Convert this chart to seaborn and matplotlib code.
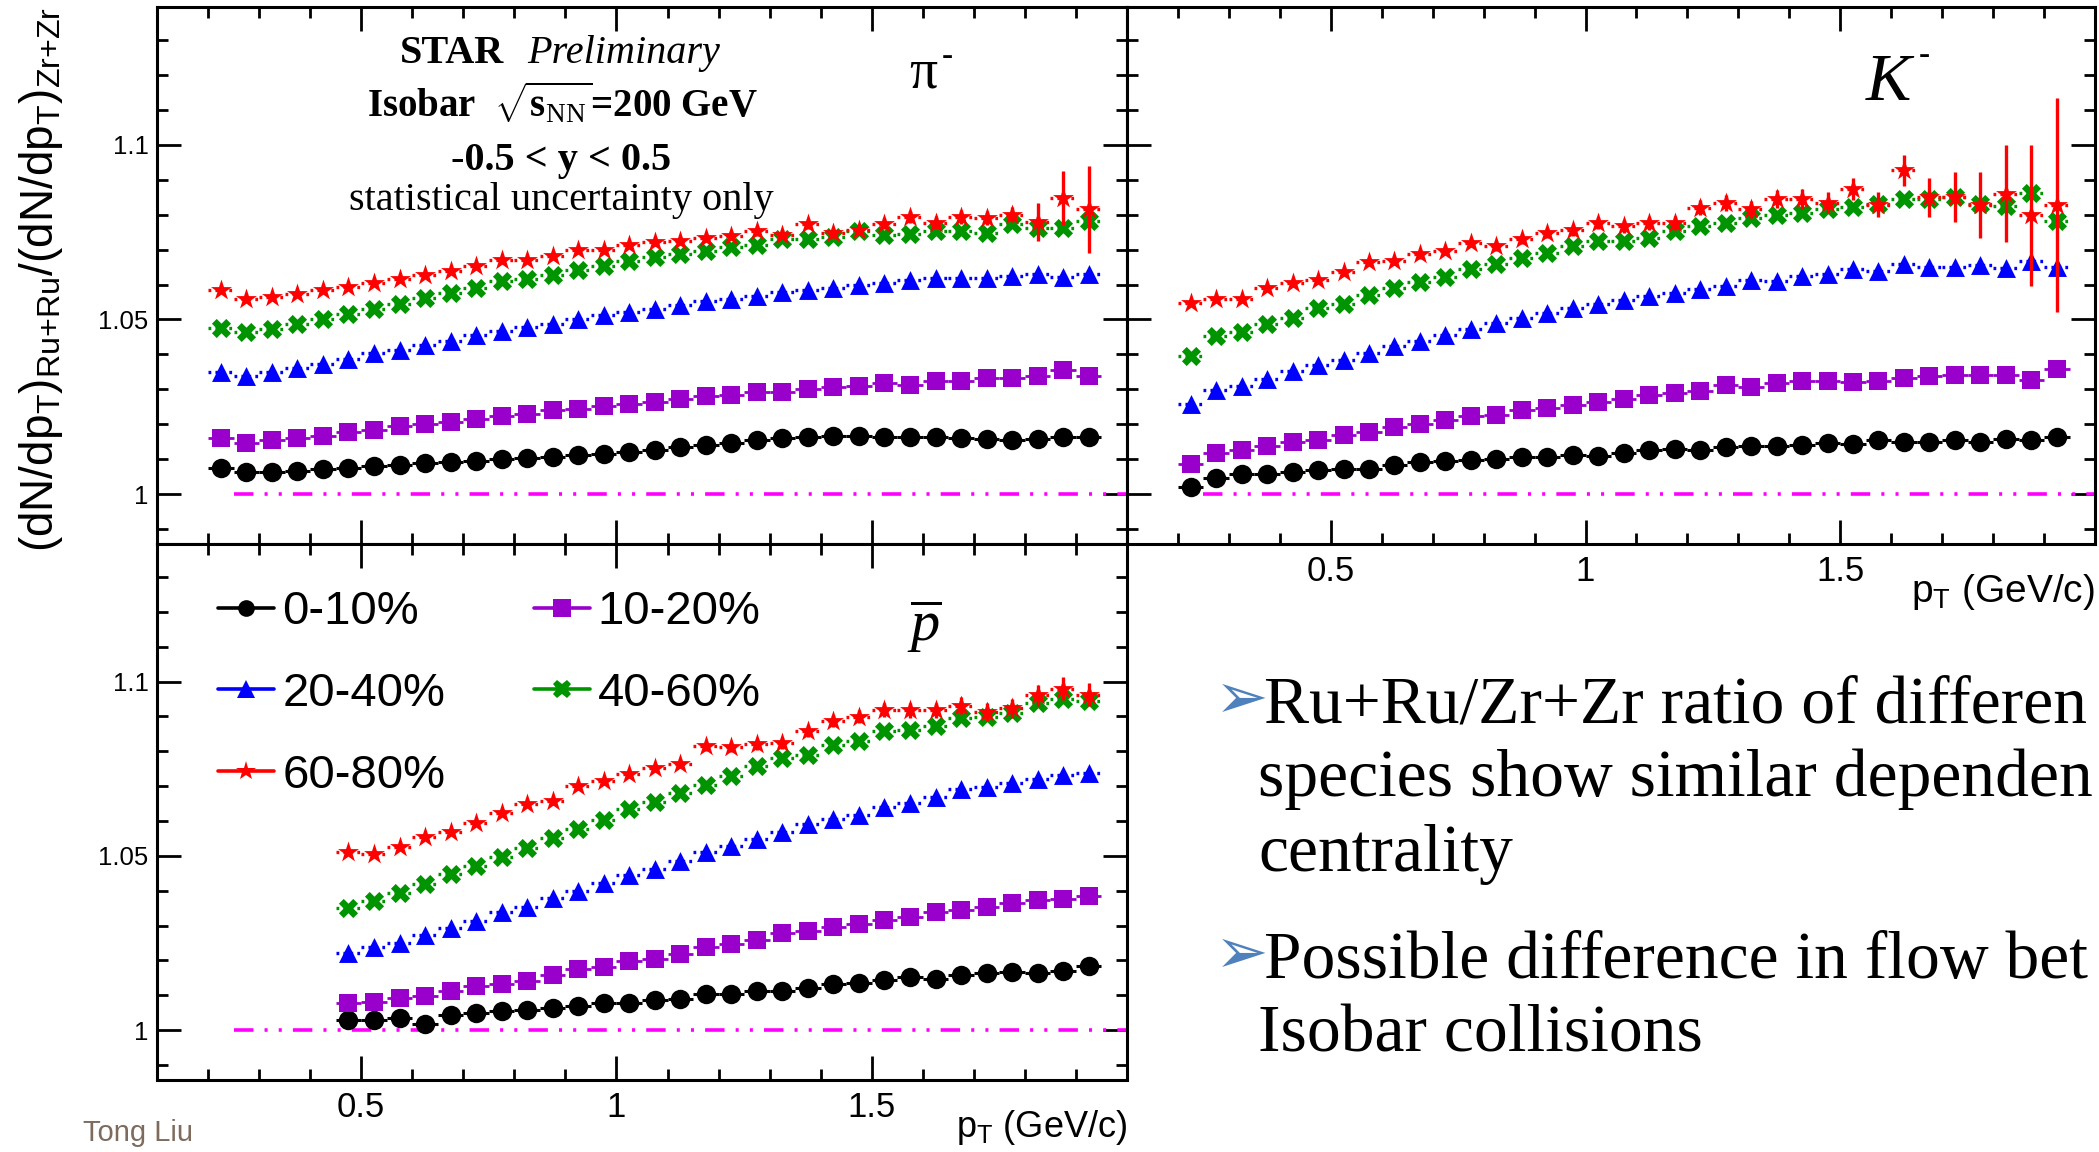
import numpy as np
import pandas as pd
import matplotlib
matplotlib.use("Agg")
import matplotlib.pyplot as plt
import seaborn as sns
from matplotlib.ticker import MultipleLocator, FixedLocator
from matplotlib.lines import Line2D

# ---------------------------------------------------------------- data
centralities = ["0-10%", "10-20%", "20-40%", "40-60%", "60-80%"]

pt_pion = [0.225, 0.275, 0.325, 0.375, 0.425, 0.475, 0.525, 0.575, 0.625, 0.675,
           0.725, 0.775, 0.825, 0.875, 0.925, 0.975, 1.025, 1.075, 1.125, 1.175,
           1.225, 1.275, 1.325, 1.375, 1.425, 1.475, 1.525, 1.575, 1.625, 1.675,
           1.725, 1.775, 1.825, 1.875, 1.925]
pt_kaon = [0.225, 0.275, 0.325, 0.375, 0.425, 0.475, 0.525, 0.575, 0.625, 0.675,
           0.725, 0.775, 0.825, 0.875, 0.925, 0.975, 1.025, 1.075, 1.125, 1.175,
           1.225, 1.275, 1.325, 1.375, 1.425, 1.475, 1.525, 1.575, 1.625, 1.675,
           1.725, 1.775, 1.825, 1.875, 1.925]
pt_pbar = [0.475, 0.525, 0.575, 0.625, 0.675, 0.725, 0.775, 0.825, 0.875, 0.925,
           0.975, 1.025, 1.075, 1.125, 1.175, 1.225, 1.275, 1.325, 1.375, 1.425,
           1.475, 1.525, 1.575, 1.625, 1.675, 1.725, 1.775, 1.825, 1.875, 1.925]
pt_half_width = 0.025

# pi-
pion_0_10 = [1.0076, 1.0064, 1.0065, 1.0068, 1.0072, 1.0076, 1.0081, 1.0085, 1.0089, 1.0093,
             1.0096, 1.0100, 1.0104, 1.0108, 1.0112, 1.0116, 1.0120, 1.0128, 1.0135, 1.0141,
             1.0148, 1.0156, 1.0162, 1.0165, 1.0167, 1.0167, 1.0165, 1.0165, 1.0165, 1.0160,
             1.0158, 1.0156, 1.0158, 1.0165, 1.0165]
pion_10_20 = [1.0162, 1.0148, 1.0154, 1.0162, 1.0168, 1.0177, 1.0184, 1.0194, 1.0202, 1.0208,
              1.0216, 1.0224, 1.0230, 1.0240, 1.0245, 1.0253, 1.0259, 1.0265, 1.0272, 1.0280,
              1.0285, 1.0294, 1.0294, 1.0302, 1.0306, 1.0310, 1.0318, 1.0313, 1.0325, 1.0323,
              1.0334, 1.0334, 1.0339, 1.0356, 1.0337]
pion_20_40 = [1.0349, 1.0338, 1.0351, 1.0361, 1.0373, 1.0388, 1.0403, 1.0414, 1.0426, 1.0439,
              1.0455, 1.0466, 1.0479, 1.0488, 1.0500, 1.0513, 1.0521, 1.0530, 1.0541, 1.0553,
              1.0560, 1.0566, 1.0578, 1.0585, 1.0590, 1.0598, 1.0603, 1.0614, 1.0620, 1.0620,
              1.0619, 1.0624, 1.0631, 1.0622, 1.0631]
pion_40_60 = [1.0476, 1.0463, 1.0474, 1.0487, 1.0500, 1.0517, 1.0530, 1.0544, 1.0562, 1.0576,
              1.0590, 1.0609, 1.0616, 1.0628, 1.0641, 1.0654, 1.0667, 1.0679, 1.0686, 1.0695,
              1.0708, 1.0712, 1.0729, 1.0729, 1.0735, 1.0753, 1.0741, 1.0745, 1.0753, 1.0753,
              1.0748, 1.0772, 1.0762, 1.0762, 1.0781]
pion_60_80 = [1.0584, 1.0560, 1.0564, 1.0574, 1.0584, 1.0592, 1.0603, 1.0617, 1.0628, 1.0640,
              1.0654, 1.0669, 1.0670, 1.0681, 1.0700, 1.0700, 1.0714, 1.0722, 1.0724, 1.0734,
              1.0738, 1.0753, 1.0743, 1.0772, 1.0746, 1.0756, 1.0774, 1.0793, 1.0777, 1.0793,
              1.0791, 1.0800, 1.0779, 1.0848, 1.0815]
pion_60_80_err = [0.0008, 0.0008, 0.0008, 0.0008, 0.0008, 0.0008, 0.0008, 0.0008, 0.0008, 0.0008,
                  0.0009, 0.0009, 0.0009, 0.0009, 0.0010, 0.0010, 0.0010, 0.0011, 0.0011, 0.0012,
                  0.0012, 0.0013, 0.0013, 0.0014, 0.0014, 0.0015, 0.0016, 0.0017, 0.0018, 0.0019,
                  0.0020, 0.0022, 0.0055, 0.0078, 0.0125]

# K-
kaon_0_10 = [1.0021, 1.0046, 1.0058, 1.0059, 1.0063, 1.0070, 1.0073, 1.0073, 1.0085, 1.0092,
             1.0096, 1.0097, 1.0102, 1.0108, 1.0106, 1.0113, 1.0111, 1.0117, 1.0126, 1.0129,
             1.0128, 1.0135, 1.0139, 1.0137, 1.0142, 1.0147, 1.0145, 1.0156, 1.0149, 1.0151,
             1.0154, 1.0151, 1.0159, 1.0154, 1.0164]
kaon_10_20 = [1.0086, 1.0118, 1.0126, 1.0137, 1.0149, 1.0156, 1.0169, 1.0177, 1.0192, 1.0202,
              1.0213, 1.0223, 1.0228, 1.0242, 1.0247, 1.0256, 1.0264, 1.0272, 1.0283, 1.0290,
              1.0295, 1.0312, 1.0306, 1.0319, 1.0323, 1.0323, 1.0320, 1.0323, 1.0333, 1.0338,
              1.0342, 1.0342, 1.0342, 1.0326, 1.0359]
kaon_20_40 = [1.0259, 1.0299, 1.0311, 1.0331, 1.0352, 1.0369, 1.0383, 1.0403, 1.0424, 1.0439,
              1.0455, 1.0474, 1.0489, 1.0503, 1.0519, 1.0532, 1.0544, 1.0556, 1.0567, 1.0575,
              1.0586, 1.0597, 1.0613, 1.0610, 1.0624, 1.0629, 1.0644, 1.0638, 1.0658, 1.0649,
              1.0649, 1.0655, 1.0646, 1.0666, 1.0649]
kaon_40_60 = [1.0395, 1.0452, 1.0464, 1.0488, 1.0505, 1.0532, 1.0545, 1.0570, 1.0591, 1.0607,
              1.0622, 1.0643, 1.0660, 1.0677, 1.0691, 1.0710, 1.0724, 1.0725, 1.0732, 1.0753,
              1.0767, 1.0777, 1.0791, 1.0798, 1.0804, 1.0815, 1.0823, 1.0830, 1.0844, 1.0844,
              1.0851, 1.0830, 1.0825, 1.0863, 1.0782]
kaon_60_80 = [1.0548, 1.0559, 1.0559, 1.0591, 1.0605, 1.0612, 1.0636, 1.0665, 1.0667, 1.0686,
              1.0696, 1.0720, 1.0710, 1.0731, 1.0748, 1.0755, 1.0777, 1.0766, 1.0775, 1.0777,
              1.0820, 1.0834, 1.0815, 1.0844, 1.0844, 1.0834, 1.0874, 1.0828, 1.0927, 1.0849,
              1.0851, 1.0827, 1.0860, 1.0798, 1.0827]
kaon_60_80_err = [0.0010, 0.0010, 0.0010, 0.0010, 0.0011, 0.0011, 0.0011, 0.0012, 0.0012, 0.0012,
                  0.0013, 0.0013, 0.0014, 0.0014, 0.0015, 0.0016, 0.0017, 0.0018, 0.0019, 0.0020,
                  0.0021, 0.0023, 0.0024, 0.0026, 0.0028, 0.0030, 0.0032, 0.0036, 0.0044, 0.0055,
                  0.0072, 0.0094, 0.0139, 0.0202, 0.0307]

# anti-proton
pbar_0_10 = [1.0028, 1.0028, 1.0035, 1.0018, 1.0042, 1.0049, 1.0054, 1.0058, 1.0063, 1.0068,
             1.0078, 1.0078, 1.0087, 1.0090, 1.0104, 1.0103, 1.0111, 1.0112, 1.0121, 1.0132,
             1.0136, 1.0143, 1.0151, 1.0146, 1.0158, 1.0163, 1.0167, 1.0163, 1.0170, 1.0185]
pbar_10_20 = [1.0078, 1.0080, 1.0092, 1.0099, 1.0112, 1.0126, 1.0133, 1.0142, 1.0157, 1.0174,
              1.0180, 1.0197, 1.0204, 1.0218, 1.0238, 1.0247, 1.0259, 1.0278, 1.0285, 1.0295,
              1.0304, 1.0317, 1.0323, 1.0338, 1.0345, 1.0352, 1.0366, 1.0373, 1.0376, 1.0385]
pbar_20_40 = [1.0221, 1.0238, 1.0249, 1.0274, 1.0292, 1.0314, 1.0338, 1.0352, 1.0378, 1.0399,
              1.0423, 1.0445, 1.0463, 1.0485, 1.0512, 1.0529, 1.0548, 1.0569, 1.0590, 1.0606,
              1.0618, 1.0639, 1.0653, 1.0669, 1.0692, 1.0698, 1.0708, 1.0720, 1.0731, 1.0738]
pbar_40_60 = [1.0349, 1.0371, 1.0393, 1.0418, 1.0447, 1.0471, 1.0497, 1.0523, 1.0552, 1.0576,
              1.0604, 1.0633, 1.0655, 1.0680, 1.0704, 1.0728, 1.0758, 1.0780, 1.0790, 1.0817,
              1.0830, 1.0858, 1.0861, 1.0873, 1.0895, 1.0899, 1.0909, 1.0938, 1.0950, 1.0944]
pbar_60_80 = [1.0512, 1.0504, 1.0525, 1.0555, 1.0569, 1.0595, 1.0623, 1.0649, 1.0657, 1.0699,
              1.0714, 1.0736, 1.0752, 1.0764, 1.0814, 1.0811, 1.0820, 1.0823, 1.0858, 1.0887,
              1.0899, 1.0918, 1.0918, 1.0918, 1.0931, 1.0914, 1.0923, 1.0961, 1.0980, 1.0963]
pbar_60_80_err = [0.0008, 0.0008, 0.0008, 0.0009, 0.0009, 0.0009, 0.0010, 0.0010, 0.0010, 0.0011,
                  0.0011, 0.0012, 0.0012, 0.0013, 0.0013, 0.0014, 0.0015, 0.0016, 0.0017, 0.0018,
                  0.0019, 0.0020, 0.0021, 0.0022, 0.0024, 0.0026, 0.0028, 0.0030, 0.0034, 0.0032]

ref_line_y = 1.0
ref_line_x = [0.25, 2.0]

x_range = [0.1, 2.0]
y_range = [0.9858, 1.1395]
x_ticks = [0.5, 1.0, 1.5]
x_tick_labels = ["0.5", "1", "1.5"]
y_ticks = [1.0, 1.05, 1.1]
y_tick_labels = ["1", "1.05", "1.1"]

# ---------------------------------------------------------------- style
sns.set_theme(style="ticks")
plt.rcParams["font.family"] = ["Liberation Sans", "DejaVu Sans"]
plt.rcParams["mathtext.fontset"] = "custom"
plt.rcParams["mathtext.rm"] = "Liberation Serif"
plt.rcParams["mathtext.it"] = "Liberation Serif:italic"
plt.rcParams["mathtext.bf"] = "Liberation Serif:bold"
plt.rcParams["mathtext.sf"] = "Liberation Sans"
plt.rcParams["lines.scale_dashes"] = False
for k in ["text.color", "axes.labelcolor", "xtick.color", "ytick.color", "axes.edgecolor"]:
    plt.rcParams[k] = "black"

colors = {"0-10%": "#000000", "10-20%": "#9900cc", "20-40%": "#0000ff",
          "40-60%": "#009400", "60-80%": "#ff0000"}
markers = {"0-10%": "o", "10-20%": "s", "20-40%": "^", "40-60%": "X", "60-80%": "*"}
marker_area = {"0-10%": 196, "10-20%": 185, "20-40%": 185, "40-60%": 190, "60-80%": 250}
bar_styles = {"0-10%": "-", "10-20%": "-", "20-40%": (0, (2, 3)),
              "40-60%": (0, (2, 3)), "60-80%": (0, (2, 3))}
bar_widths = {"0-10%": 2.2, "10-20%": 2.0, "20-40%": 2.4, "40-60%": 2.4, "60-80%": 2.4}

W, H = 2099, 1152
fig = plt.figure(figsize=(W / 100, H / 100), dpi=100)
fig.patch.set_facecolor("white")


def fx(px):
    return px / W


def fy(py):
    return 1 - py / H


ax_pi = fig.add_axes([fx(157), fy(544), fx(1127) - fx(157), fy(6.5) - fy(544)])
ax_k = fig.add_axes([fx(1127), fy(544), fx(2095) - fx(1127), fy(6.5) - fy(544)])
ax_p = fig.add_axes([fx(157), fy(1079.5), fx(1127) - fx(157), fy(544) - fy(1079.5)])


def draw_panel(ax, pt, values, red_err):
    rows = []
    for cent, vals in zip(centralities, values):
        for x, y in zip(pt, vals):
            rows.append((x, y, cent))
    df = pd.DataFrame(rows, columns=["pT", "ratio", "centrality"])
    for i, cent in enumerate(centralities):
        sub = df[df["centrality"] == cent]
        ax.hlines(sub["ratio"], sub["pT"] - pt_half_width, sub["pT"] + pt_half_width,
                  colors=colors[cent], linestyles=[bar_styles[cent]],
                  lw=bar_widths[cent], zorder=3 + 2 * i)
        if cent == "60-80%":
            err = np.asarray(red_err)
            ax.vlines(sub["pT"], sub["ratio"] - err, sub["ratio"] + err,
                      colors=colors[cent], lw=2.4, zorder=3 + 2 * i)
        sns.scatterplot(data=sub, x="pT", y="ratio", color=colors[cent],
                        marker=markers[cent], s=marker_area[cent], linewidth=0,
                        legend=False, ax=ax, zorder=4 + 2 * i)
    ax.hlines(ref_line_y, ref_line_x[0], ref_line_x[1], colors="#ff00ff",
              linestyles=[(0, (14, 8, 2.2, 8, 2.2, 8))], lw=2.6, zorder=2)
    ax.set_xlim(*x_range)
    ax.set_ylim(*y_range)
    ax.set_xlabel("")
    ax.set_ylabel("")
    ax.xaxis.set_major_locator(FixedLocator(x_ticks))
    ax.xaxis.set_minor_locator(MultipleLocator(0.1))
    ax.yaxis.set_major_locator(FixedLocator(y_ticks))
    ax.yaxis.set_minor_locator(MultipleLocator(0.01))
    ax.set_xticklabels(x_tick_labels)
    ax.set_yticklabels(y_tick_labels)
    ax.tick_params(which="both", direction="in", top=True, right=True, width=2.0,
                   colors="black")
    ax.tick_params(which="major", length=17)
    ax.tick_params(which="minor", length=8)
    ax.tick_params(axis="x", labelsize=25, pad=8)
    ax.tick_params(axis="y", labelsize=18.5, pad=6)
    for sp in ax.spines.values():
        sp.set_linewidth(2.2)
        sp.set_color("black")
        sp.set_visible(True)
    ax.set_facecolor("white")
    ax.grid(False)


draw_panel(ax_pi, pt_pion, [pion_0_10, pion_10_20, pion_20_40, pion_40_60, pion_60_80], pion_60_80_err)
draw_panel(ax_k, pt_kaon, [kaon_0_10, kaon_10_20, kaon_20_40, kaon_40_60, kaon_60_80], kaon_60_80_err)
draw_panel(ax_p, pt_pbar, [pbar_0_10, pbar_10_20, pbar_20_40, pbar_40_60, pbar_60_80], pbar_60_80_err)

ax_pi.tick_params(labelbottom=False)
ax_k.tick_params(labelleft=False)

# axis titles
ax_k.text(1.0, -0.09, r"$\mathsf{p_{T}}$ (GeV/c)", transform=ax_k.transAxes,
          ha="right", va="center", fontsize=28)
ax_p.text(1.0, -0.09, r"$\mathsf{p_{T}}$ (GeV/c)", transform=ax_p.transAxes,
          ha="right", va="center", fontsize=26)
fig.text(0.0195, fy(7), r"$\mathsf{(dN/dp_{T})_{Ru{+}Ru}/(dN/dp_{T})_{Zr{+}Zr}}$",
         rotation=90, ha="center", va="top", fontsize=33)

# legend
legend_order = ["0-10%", "20-40%", "60-80%", "10-20%", "40-60%"]
legend_ms = {"0-10%": 12, "10-20%": 13, "20-40%": 13, "40-60%": 13, "60-80%": 15}
handles = [Line2D([0], [0], color=colors[c], lw=2.6, marker=markers[c],
                  markersize=legend_ms[c], markeredgewidth=0) for c in legend_order]
ax_p.legend(handles, legend_order, ncol=2, loc="upper left", bbox_to_anchor=(0.0629, 0.914),
            frameon=False, fontsize=34, handlelength=1.19, handletextpad=0.17,
            columnspacing=1.87, labelspacing=0.8, borderpad=0, borderaxespad=0)

# panel annotations
serif = "Liberation Serif"
fig.text(fx(400), fy(63), "STAR", fontsize=29, fontweight="bold", family=serif, va="baseline")
fig.text(fx(527), fy(63), "Preliminary", fontsize=29, style="italic", family=serif, va="baseline")
fig.text(fx(562), fy(117), r"Isobar  $\sqrt{\mathbf{s}_{\mathrm{NN}}}$=200 GeV", fontsize=28,
         fontweight="bold", family=serif, ha="center", va="baseline")
fig.text(fx(561), fy(170), "-0.5 < y < 0.5", fontsize=29, fontweight="bold", family=serif,
         ha="center", va="baseline")
fig.text(fx(561), fy(210), "statistical uncertainty only", fontsize=29, family=serif,
         ha="center", va="baseline")

fig.text(fx(909), fy(88), "\u03c0", fontsize=40, family=serif, va="baseline")
fig.text(fx(942), fy(65), "-", fontsize=24, family=serif, va="baseline")
fig.text(fx(1866), fy(100), "K", fontsize=49, style="italic", family=serif, va="baseline")
fig.text(fx(1919), fy(64), "-", fontsize=24, family=serif, va="baseline")
fig.text(fx(907), fy(641), r"$\overline{p}$", fontsize=42, va="baseline")

fig.text(fx(83), fy(1141), "Tong Liu", fontsize=21, color="#7d6b5d", va="baseline")

# slide text on the right (the reference cuts the words at the right edge)
arrow_kw = dict(fontsize=46, family=["DejaVu Sans"], color="#4f81bd", va="center", ha="left")
body_kw = dict(fontsize=48.6, family=serif, va="baseline", ha="left")
fig.text(fx(1215), fy(700), "\u27a2", **arrow_kw)
fig.text(fx(1264), fy(722.5), "Ru+Ru/Zr+Zr ratio of differen", **body_kw)
fig.text(fx(1258), fy(795.5), "species show similar dependen", **body_kw)
fig.text(fx(1258), fy(871), "centrality", **body_kw)
fig.text(fx(1215), fy(955), "\u27a2", **arrow_kw)
fig.text(fx(1264), fy(978), "Possible difference in flow bet", **body_kw)
fig.text(fx(1258), fy(1052), "Isobar collisions", **body_kw)

fig.savefig("out.png", dpi=100, facecolor="white")
